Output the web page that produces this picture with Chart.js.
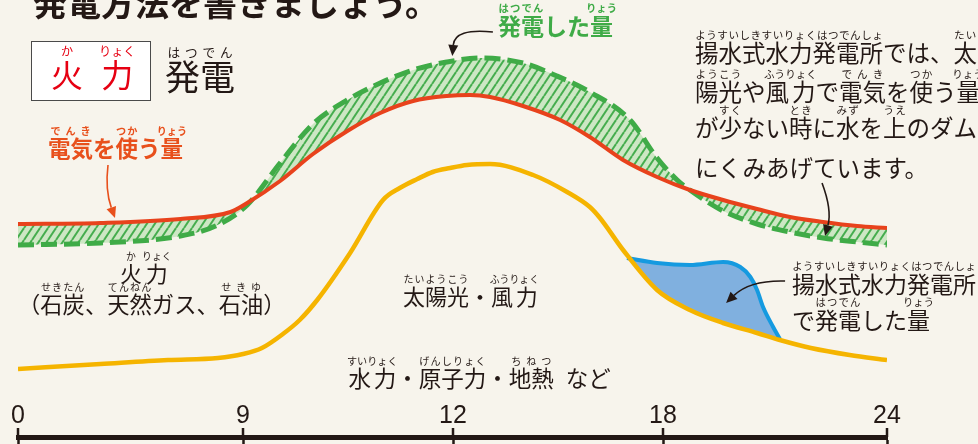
<!DOCTYPE html>
<html lang="ja">
<head>
<meta charset="utf-8">
<title>火力発電</title>
<script src="https://cdn.jsdelivr.net/npm/chart.js@4.4.1/dist/chart.umd.min.js"></script>
<style>
  html, body { margin: 0; padding: 0; background: #f7f4ec; }
  #wrap { position: relative; width: 978px; height: 444px; overflow: hidden; }
  #chartBox { position: absolute; left: 0; top: 0; width: 978px; height: 444px; }
  .t { position: absolute; white-space: nowrap; line-height: 1; font-family: "Noto Sans CJK JP", sans-serif; color: #231815; }
  .t rt { font-size: 0.45em; line-height: 1; }
  #box { position: absolute; left: 31px; top: 41px; width: 118px; height: 58px; background: #fff; border: 1.5px solid #4a4a4a; }
  .gap { display: inline-block; }
</style>
</head>
<body>
<div id="wrap">
  <div id="chartBox"><canvas id="chart"></canvas></div>

  <div class="t" style="left:33px;top:-15px;font-size:34px;font-weight:700;">発電方法を書きましょう。</div>

  <div id="box"></div>
  <div class="t" style="left:51px;top:45px;font-size:32px;color:#e60012;"><ruby>火<rt style="font-size:0.38em">か</rt></ruby><span class="gap" style="width:16px"></span><ruby>力<rt style="font-size:0.38em">りょく</rt></ruby></div>
  <div class="t" style="left:165px;top:45px;font-size:35px;"><ruby>発電<rt style="font-size:0.36em">はつでん</rt></ruby></div>

  <div class="t" style="left:498px;top:2px;font-size:23px;font-weight:700;color:#3fab47;"><ruby>発電<rt>はつでん</rt></ruby>した<ruby>量<rt>りょう</rt></ruby></div>

  <div class="t" style="left:695px;top:29px;font-size:23.5px;"><ruby>揚水式水力発電所<rt>ようすいしきすいりょくはつでんしょ</rt></ruby>では、<ruby>太<rt>たい</rt></ruby></div>
  <div class="t" style="left:695px;top:68px;font-size:23.5px;"><ruby>陽光<rt>ようこう</rt></ruby>や<ruby>風力<rt>ふうりょく</rt></ruby>で<ruby>電気<rt>でんき</rt></ruby>を<ruby>使<rt>つか</rt></ruby>う<ruby>量<rt>りょう</rt></ruby></div>
  <div class="t" style="left:695px;top:104px;font-size:23.5px;">が<ruby>少<rt>すく</rt></ruby>ない<ruby>時<rt>とき</rt></ruby>に<ruby>水<rt>みず</rt></ruby>を<ruby>上<rt>うえ</rt></ruby>のダム</div>
  <div class="t" style="left:695px;top:156px;font-size:23.5px;">にくみあげています。</div>

  <div class="t" style="left:48px;top:126px;font-size:22.5px;font-weight:700;color:#e8501c;"><ruby>電気<rt>でんき</rt></ruby>を<ruby>使<rt>つか</rt></ruby>う<ruby>量<rt>りょう</rt></ruby></div>

  <div class="t" style="left:120px;top:251px;font-size:22px;"><ruby>火<rt>か</rt></ruby><ruby>力<rt>りょく</rt></ruby></div>
  <div class="t" style="left:18px;top:282px;font-size:22.3px;">（<ruby>石炭<rt>せきたん</rt></ruby>、<ruby>天然<rt>てんねん</rt></ruby>ガス、<ruby>石油<rt>せきゆ</rt></ruby>）</div>
  <div class="t" style="left:403px;top:274px;font-size:22px;"><ruby>太陽光<rt>たいようこう</rt></ruby>・<ruby>風力<rt>ふうりょく</rt></ruby></div>
  <div class="t" style="left:347px;top:356px;font-size:22.5px;"><ruby>水力<rt>すいりょく</rt></ruby>・<ruby>原子力<rt>げんしりょく</rt></ruby>・<ruby>地熱<rt>ちねつ</rt></ruby><span class="gap" style="width:12px"></span>など</div>

  <div class="t" style="left:792px;top:260px;font-size:23px;"><ruby>揚水式水力発電所<rt>ようすいしきすいりょくはつでんしょ</rt></ruby></div>
  <div class="t" style="left:792px;top:296px;font-size:23px;">で<ruby>発電<rt>はつでん</rt></ruby>した<ruby>量<rt>りょう</rt></ruby></div>
</div>

<script>
// x axis ticks (hour of day)
const hourTicks = [0, 9, 12, 18, 24];

// electricity used (red line)
const demandHours  = [0, 3.3, 6.5, 8.5, 9.06, 9.53, 10.0, 10.49, 10.96, 11.43, 11.91, 12.49, 13.06, 14.0, 15.06, 15.91, 16.86, 17.83, 18.72, 19.61, 20.52, 21.4, 22.29, 23.2, 24];
const demandValues = [213, 214, 218, 225, 234, 256, 283, 306, 324, 336, 341, 342, 340, 331, 317, 300, 277, 260, 247, 237, 228, 220, 215, 211, 209];

// electricity generated (green dashed line)
const supplyHours  = [0, 3.3, 6.5, 7.9, 9.06, 9.53, 10.0, 10.49, 10.96, 11.43, 11.91, 12.77, 14.0, 14.97, 15.91, 17.06, 17.83, 18.38, 18.72, 19.61, 20.52, 21.4, 22.29, 23.2, 24];
const supplyValues = [192, 194, 201, 211, 232, 274, 313, 337, 354, 367, 375, 379, 374, 361, 345, 317, 279, 257, 247, 226, 213, 205, 199, 195, 192];

// solar / wind top edge (yellow line)
const renewHours  = [0, 3.3, 6.0, 8.0, 9.0, 9.27, 9.57, 9.81, 10.06, 10.53, 11.0, 11.24, 11.49, 11.71, 11.96, 12.4, 13.06, 14.29, 15.26, 15.91, 16.2, 16.86, 17.83, 18.72, 19.61, 20.52, 21.13, 21.96, 23.0, 24];
const renewValues = [68, 73, 77, 79, 83, 89, 103, 117, 137, 184, 237, 249, 258, 265, 269, 272, 273, 262, 245, 230, 219, 187, 147, 127, 114, 104, 97, 89, 82, 77];

// pumped-storage hydro generation (blue area, top edge)
const pumpedHours  = [16.97, 17.83, 18.72, 19.61, 20.07, 20.34, 20.52, 20.68, 20.95, 21.13];
const pumpedValues = [179, 174, 172, 175, 170, 160, 147, 130, 110, 98];

// where each hour tick sits along the axis (share of its length)
const tickShare = [0, 225 / 869, 435 / 869, 645 / 869, 1];

function hourToShare(h) {
    for (let i = 1; i < hourTicks.length; i++) {
        if (h <= hourTicks[i] || i === hourTicks.length - 1) {
            const t = (h - hourTicks[i - 1]) / (hourTicks[i] - hourTicks[i - 1]);
            return tickShare[i - 1] + t * (tickShare[i] - tickShare[i - 1]);
        }
    }
    return 0;
}

function shareToHour(s) {
    for (let i = 1; i < tickShare.length; i++) {
        if (s <= tickShare[i] || i === tickShare.length - 1) {
            const t = (s - tickShare[i - 1]) / (tickShare[i] - tickShare[i - 1]);
            return hourTicks[i - 1] + t * (hourTicks[i] - hourTicks[i - 1]);
        }
    }
    return 0;
}

// linear scale whose hour ticks are not evenly spaced
class HourScale extends Chart.LinearScale {
    getPixelForValue(value) {
        if (value === null || value === undefined) return NaN;
        return this.getPixelForDecimal(hourToShare(value));
    }
    getValueForPixel(pixel) {
        return shareToHour(this.getDecimalForPixel(pixel));
    }
}
HourScale.id = 'hours';
HourScale.defaults = Chart.LinearScale.defaults;
Chart.register(HourScale);

function toPoints(xs, ys) {
    return xs.map((x, i) => ({ x: x, y: ys[i] }));
}

// green diagonal hatching
function makeHatch() {
    const c = document.createElement('canvas');
    c.width = 8;
    c.height = 12;
    const g = c.getContext('2d');
    g.fillStyle = '#cde7c4';
    g.fillRect(0, 0, 8, 12);
    g.strokeStyle = '#45ad4e';
    g.lineWidth = 2;
    for (const dx of [-8, 0, 8]) {
        g.beginPath();
        g.moveTo(dx, 12);
        g.lineTo(dx + 8, 0);
        g.stroke();
    }
    return g.createPattern(c, 'repeat');
}

const ink = '#231815';
const orange = '#e8501c';

// callout arrows, in hours / amount
const arrows = [
    { from: [13.14, 405], via: [12.05, 409], to: [11.99, 381], color: ink },
    { from: [3.6, 272], via: [3.48, 247], to: [3.88, 219], color: orange },
    { from: [22.26, 254], via: [22.53, 227], to: [22.34, 201], color: ink },
    { from: [21.27, 156], via: [20.33, 157], to: [19.69, 134], color: ink }
];

const annotate = {
    id: 'annotate',
    afterDraw(chart) {
        const ctx = chart.ctx;
        const xs = chart.scales.x;
        const ys = chart.scales.y;

        // tick marks poke up above the axis bar
        ctx.save();
        ctx.strokeStyle = ink;
        ctx.lineWidth = 2.5;
        xs.ticks.forEach((t, i) => {
            const px = xs.getPixelForTick(i);
            ctx.beginPath();
            ctx.moveTo(px, xs.top - 9);
            ctx.lineTo(px, xs.top);
            ctx.stroke();
        });
        ctx.restore();

        arrows.forEach(a => {
            const p0 = [xs.getPixelForValue(a.from[0]), ys.getPixelForValue(a.from[1])];
            const p1 = [xs.getPixelForValue(a.via[0]), ys.getPixelForValue(a.via[1])];
            const p2 = [xs.getPixelForValue(a.to[0]), ys.getPixelForValue(a.to[1])];
            const ang = Math.atan2(p2[1] - p1[1], p2[0] - p1[0]);
            const len = 11, half = 5;
            const bx = p2[0] - Math.cos(ang) * len;
            const by = p2[1] - Math.sin(ang) * len;
            ctx.save();
            ctx.strokeStyle = a.color;
            ctx.fillStyle = a.color;
            ctx.lineWidth = 1.6;
            ctx.beginPath();
            ctx.moveTo(p0[0], p0[1]);
            ctx.quadraticCurveTo(p1[0], p1[1], bx, by);
            ctx.stroke();
            ctx.beginPath();
            ctx.moveTo(p2[0], p2[1]);
            ctx.lineTo(bx + Math.sin(ang) * half, by - Math.cos(ang) * half);
            ctx.lineTo(bx - Math.sin(ang) * half, by + Math.cos(ang) * half);
            ctx.closePath();
            ctx.fill();
            ctx.restore();
        });
    }
};

const ctx = document.getElementById('chart').getContext('2d');

const chart = new Chart(ctx, {
    type: 'line',
    data: {
        datasets: [
            {
                label: '電気を使う量',
                data: toPoints(demandHours, demandValues),
                borderColor: '#e8421c',
                borderWidth: 4,
                fill: false
            },
            {
                label: '発電した量',
                data: toPoints(supplyHours, supplyValues),
                borderColor: '#3fab47',
                borderWidth: 5,
                borderDash: [16, 7],
                backgroundColor: makeHatch(),
                fill: { target: 0 }
            },
            {
                label: '太陽光・風力',
                data: toPoints(renewHours, renewValues),
                borderColor: '#f5b400',
                borderWidth: 4.5,
                fill: false
            },
            {
                label: '揚水式水力発電所で発電した量',
                data: toPoints(pumpedHours, pumpedValues),
                borderColor: '#159ae0',
                borderWidth: 4,
                backgroundColor: '#80b0df',
                fill: { target: 2 }
            }
        ]
    },
    options: {
        responsive: true,
        maintainAspectRatio: false,
        animation: false,
        layout: { padding: { left: 18, right: 91, top: 0, bottom: 0 } },
        elements: {
            point: { radius: 0, hoverRadius: 0 },
            line: { cubicInterpolationMode: 'monotone', borderCapStyle: 'butt' }
        },
        plugins: {
            legend: { display: false },
            tooltip: { enabled: false }
        },
        scales: {
            x: {
                type: 'hours',
                position: 'bottom',
                min: 0,
                max: 24,
                afterBuildTicks: (scale) => {
                    scale.ticks = hourTicks.map(v => ({ value: v }));
                },
                grid: {
                    drawOnChartArea: false,
                    drawTicks: true,
                    tickLength: 7,
                    tickWidth: 2.5,
                    tickColor: ink
                },
                border: { display: true, width: 5, color: ink },
                ticks: {
                    mirror: true,
                    padding: 0,
                    autoSkip: false,
                    maxRotation: 0,
                    color: ink,
                    font: { family: 'Liberation Sans', size: 25, lineHeight: 1.68 }
                }
            },
            y: {
                display: false,
                min: 0,
                max: 437
            }
        }
    },
    plugins: [annotate]
});
</script>
</body>
</html>
